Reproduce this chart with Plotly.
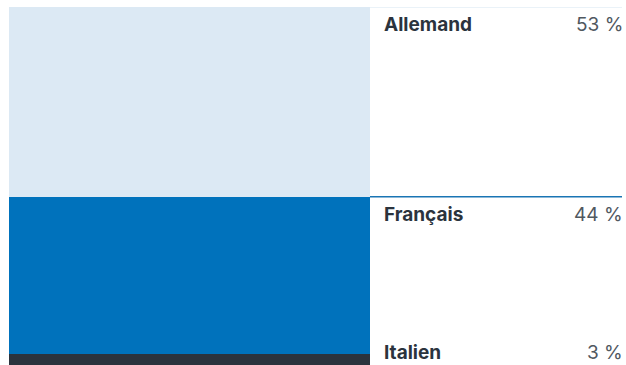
import plotly.graph_objects as go

categories = ["Allemand", "Français", "Italien"]
values = [53, 44, 3]
labels = ["53 %", "44 %", "3 %"]
colors = ["#dce9f4", "#0072bc", "#2b333d"]
line_colors = ["#e3eef6", "#1a75b4", None]

W, H = 626, 365
ml, mr, mt, mb = 9, 4, 7, 0
pw = W - ml - mr
bar_right = (370 - ml) / pw

fig = go.Figure()
# stack from bottom: Italien, Français, Allemand
for cat, v, c in reversed(list(zip(categories, values, colors))):
    fig.add_trace(go.Bar(x=[0], y=[v], name=cat, marker=dict(color=c, line=dict(width=0)),
                         width=1, hoverinfo="skip"))

total = sum(values)
ph = H - mt - mb
tops = []
acc = total
for v in values:
    tops.append(acc)
    acc -= v

px_per_unit = ph / total
for i, (cat, lab, top) in enumerate(zip(categories, labels, tops)):
    if line_colors[i]:
        fig.add_shape(type="line", xref="paper", yref="y", x0=bar_right, x1=1.0,
                      y0=top, y1=top, line=dict(color=line_colors[i], width=1.5))
    ytext = top - 17.5 / px_per_unit
    ytext = max(ytext, 13 / px_per_unit)
    fig.add_annotation(xref="paper", yref="y", x=(382 - ml) / pw, y=ytext, text="<b>" + cat + "</b>",
                       showarrow=False, xanchor="left", yanchor="middle",
                       font=dict(family="Inter", size=19, color="#2b333d"))
    fig.add_annotation(xref="paper", yref="y", x=(625 - ml) / pw, y=ytext, text=lab,
                       showarrow=False, xanchor="right", yanchor="middle",
                       font=dict(family="Inter", size=19, color="#50585f"))

fig.update_layout(
    width=W, height=H, barmode="stack", bargap=0, showlegend=False,
    margin=dict(l=ml, r=mr, t=mt, b=mb),
    paper_bgcolor="white", plot_bgcolor="white",
    xaxis=dict(domain=[0, bar_right], range=[-0.5, 0.5], visible=False, fixedrange=True),
    yaxis=dict(range=[0, total], visible=False, fixedrange=True),
)
fig.write_html("out.html")
